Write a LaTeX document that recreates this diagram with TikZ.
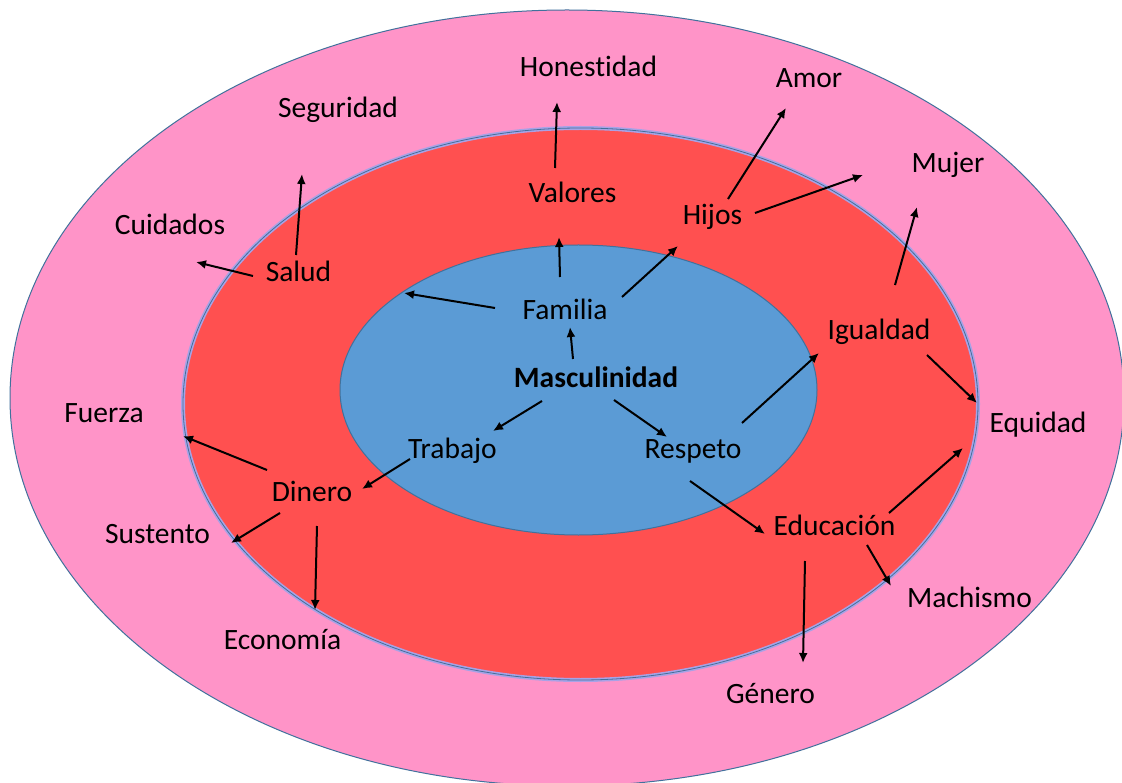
\documentclass[tikz,border=0pt]{standalone}
\usepackage{fontspec}
\setmainfont{Carlito}[Ligatures={NoCommon}]
\usetikzlibrary{arrows.meta}
\definecolor{pinkc}{HTML}{FF94C8}
\definecolor{redc}{HTML}{FF5050}
\definecolor{bluec}{HTML}{5B9BD5}
\definecolor{edgec}{HTML}{41719C}
\definecolor{glowc}{HTML}{A8A2E6}
\begin{document}
\begin{tikzpicture}[x=1pt,y=-1pt,
  lbl/.style={anchor=base, inner sep=0pt, font=\fontsize{29.5}{35}\selectfont},
  arr/.style={-{Latex[length=10pt,width=9pt]}, line width=2pt, black}]
\useasboundingbox (0,0) rectangle (1122,783);
\fill[white] (0,0) rectangle (1122,783);
% rings
\draw[edgec, line width=1pt, fill=pinkc] (567,398) ellipse [x radius=557, y radius=388];
\draw[glowc, line width=4pt, fill=redc] (580.5,404) ellipse [x radius=397.5, y radius=276];
\draw[edgec, line width=0.8pt] (580.5,404) ellipse [x radius=397.5, y radius=276];
\draw[edgec, line width=1pt, fill=bluec] (578.5,390) ellipse [x radius=238.5, y radius=145];
% labels
\node[lbl] (hon) at (588.5,77) {Honestidad};
\node[lbl] (seg) at (338,118) {Seguridad};
\node[lbl] (cui) at (170,235) {Cuidados};
\node[lbl] (sal) at (298.5,282) {Salud};
\node[lbl] (amo) at (809,88) {Amor};
\node[lbl] (val) at (572.5,203) {Valores};
\node[lbl] (hij) at (712.5,225) {Hijos};
\node[lbl] (muj) at (948,173) {Mujer};
\node[lbl] (igu) at (879,340) {Igualdad};
\node[lbl] (equ) at (1038,432) {Equidad};
\node[lbl] (fam) at (565,320) {Familia};
\node[lbl, font=\fontsize{29.5}{35}\selectfont\bfseries] (mas) at (596,388) {Masculinidad};
\node[lbl] (tra) at (452.5,458) {Trabajo};
\node[lbl] (res) at (693,458) {Respeto};
\node[lbl] (fue) at (104,423) {Fuerza};
\node[lbl] (din) at (312,501) {Dinero};
\node[lbl] (sus) at (157.5,543) {Sustento};
\node[lbl] (eco) at (282.5,649) {Economía};
\node[lbl] (edu) at (834.5,535) {Educación};
\node[lbl] (mac) at (969.5,607) {Machismo};
\node[lbl] (gen) at (770.5,703) {Género};
% arrow end points
\coordinate (val-hon-a) at (555,168);   \coordinate (val-hon-b) at (557,102);
\coordinate (hij-amo-a) at (728,199);   \coordinate (hij-amo-b) at (786,108);
\coordinate (hij-muj-a) at (755,213);   \coordinate (hij-muj-b) at (863,175);
\coordinate (fam-val-a) at (560,277);   \coordinate (fam-val-b) at (559,237);
\coordinate (fam-hij-a) at (622,297);   \coordinate (fam-hij-b) at (678,246);
\coordinate (fam-left-a) at (495,308);  \coordinate (fam-left) at (404,293);
\coordinate (mas-fam-a) at (573,359);   \coordinate (mas-fam-b) at (570,327);
\coordinate (mas-tra-a) at (542,401);   \coordinate (mas-tra-b) at (493,431);
\coordinate (mas-res-a) at (614,400);   \coordinate (mas-res-b) at (667,437);
\coordinate (tra-din-a) at (410,459);   \coordinate (tra-din-b) at (362,489);
\coordinate (res-igu-a) at (742,423);   \coordinate (res-igu-b) at (819,353);
\coordinate (res-edu-a) at (690,481);   \coordinate (res-edu-b) at (765,534);
\coordinate (igu-muj-a) at (895,285);   \coordinate (igu-muj-b) at (917,207);
\coordinate (igu-equ-a) at (927,355);   \coordinate (igu-equ-b) at (977,403);
\coordinate (sal-seg-a) at (296,255);   \coordinate (sal-seg-b) at (302,174);
\coordinate (sal-cui-a) at (253,276);   \coordinate (sal-cui-b) at (196,262);
\coordinate (din-fue-a) at (267,470);   \coordinate (din-fue-b) at (183,436);
\coordinate (din-sus-a) at (280,513);   \coordinate (din-sus-b) at (231,543);
\coordinate (din-eco-a) at (317,526);   \coordinate (din-eco-b) at (315,610);
\coordinate (edu-equ-a) at (889,513);   \coordinate (edu-equ-b) at (963,448);
\coordinate (edu-mac-a) at (867,545);   \coordinate (edu-mac-b) at (891,586);
\coordinate (edu-gen-a) at (805,561);   \coordinate (edu-gen-b) at (803,663);
% arrows
\foreach \p in {val-hon,hij-amo,hij-muj,fam-val,fam-hij,mas-fam,mas-tra,mas-res,tra-din,res-igu,res-edu,igu-muj,igu-equ,sal-seg,sal-cui,din-fue,din-sus,din-eco,edu-equ,edu-mac,edu-gen}
  \draw[arr] (\p-a) -- (\p-b);
\draw[arr] (fam-left-a) -- (fam-left);
\end{tikzpicture}
\end{document}
